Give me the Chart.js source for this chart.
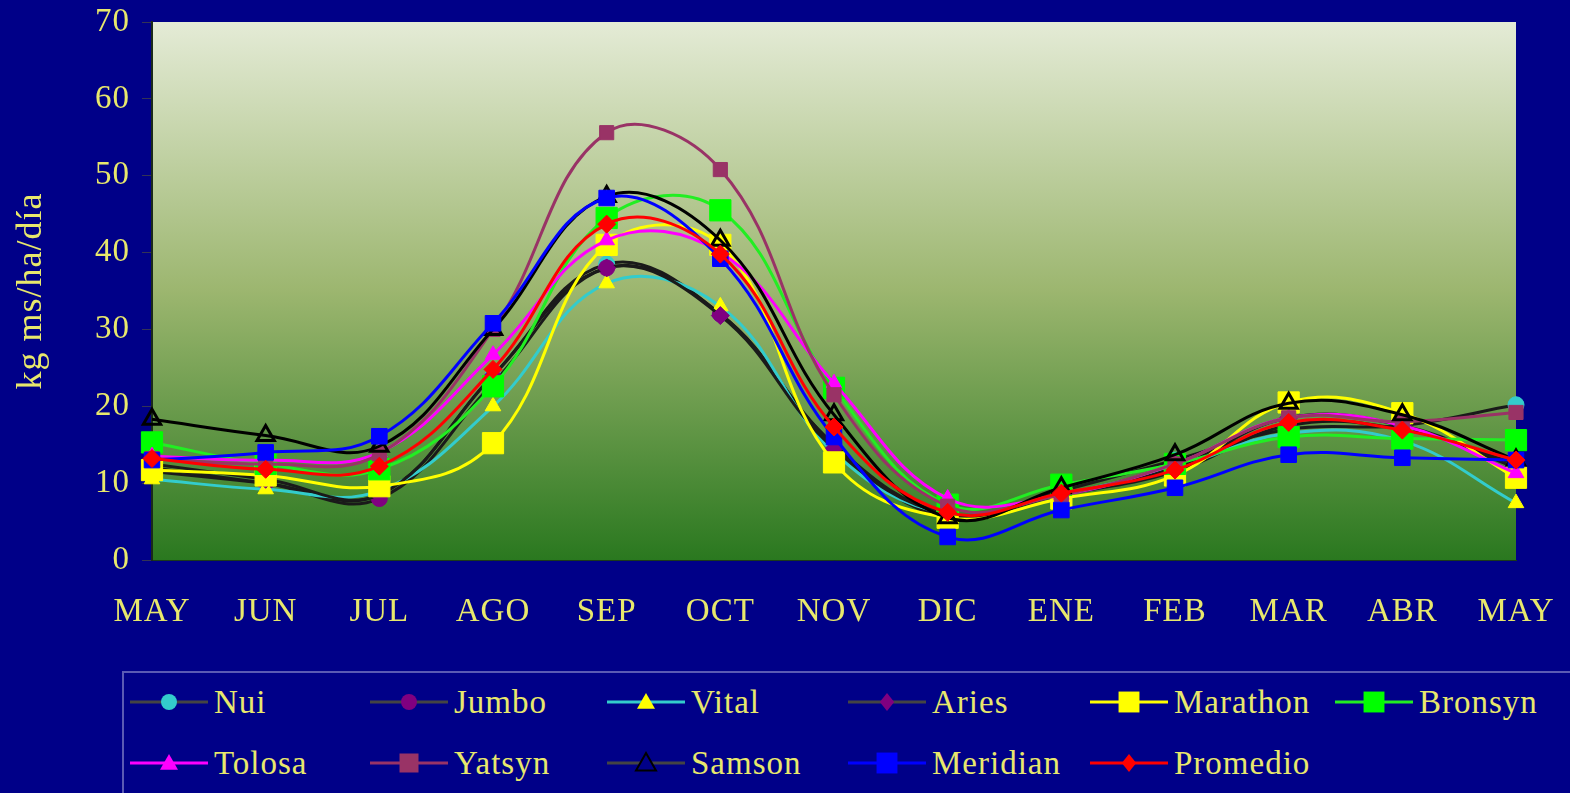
<!DOCTYPE html>
<html>
<head>
<meta charset="utf-8">
<script src="https://cdn.jsdelivr.net/npm/chart.js@4.4.0/dist/chart.umd.min.js"></script>
<style>
    body { margin: 0; background: #000088; width: 1570px; height: 793px; overflow: hidden; position: relative; font-family: "Liberation Serif", "DejaVu Serif", serif; }
    #grafico { position: absolute; left: 0; top: 0; }
    #leyenda { position: absolute; left: 122px; top: 671px; width: 1452px; height: 130px; border: 2px solid #5a5ab4; box-sizing: border-box; }
    .item { position: absolute; display: flex; align-items: center; height: 34px; color: #e8e86c; font-size: 33px; letter-spacing: 1px; white-space: nowrap; }
    .item canvas { margin-right: 6px; }
</style>
</head>
<body>
<canvas id="grafico" width="1570" height="660"></canvas>
<div id="leyenda"></div>
<script>
// meses
const meses = ["MAY", "JUN", "JUL", "AGO", "SEP", "OCT", "NOV", "DIC", "ENE", "FEB", "MAR", "ABR", "MAY"]

// kg ms/ha/dia por variedad
const nui = [11.5, 10, 8.5, 24, 38.5, 32, 15, 5.5, 9, 13, 17, 17.5, 20.2]
const jumbo = [12, 10, 8, 23, 38, 32, 15, 6, 8.5, 11.5, 17.5, 17, 12.5]
const vital = [10.5, 9.2, 9, 20, 36, 33, 14, 6, 8.5, 12, 16.5, 15.5, 7.4]
const aries = [12.5, 10.5, 8.5, 24, 38, 31.8, 14.5, 6, 8.5, 12, 18.5, 17.5, 12]
const marathon = [11.7, 11, 9.6, 15.2, 41, 41, 12.7, 5.5, 8, 11, 20.5, 19.1, 10.7]
const bronsyn = [15.3, 12.5, 11.8, 22.6, 44.5, 45.5, 22.4, 7.2, 9.8, 12.5, 16, 15.8, 15.6]
const tolosa = [13.5, 13, 14, 26.7, 41.6, 40, 23, 8, 8.5, 12.5, 18.5, 17.5, 11.3]
const yatsyn = [13.2, 12.5, 13.8, 30, 55.6, 50.8, 21.5, 7, 8.5, 12.5, 18.5, 18, 19.2]
const samson = [18.3, 16.2, 14.8, 30, 47.3, 41.6, 18.9, 5.5, 9.4, 13.7, 20.4, 18.9, 13]
const meridian = [13, 14, 16.1, 30.8, 47.1, 39.2, 16, 3, 6.5, 9.4, 13.7, 13.3, 13]
const promedio = [13.2, 11.8, 12.2, 24.8, 43.7, 39.8, 17.3, 6.2, 8.7, 11.7, 17.9, 16.9, 13]

const amarillo = '#e8e86c'

// nombre, datos, color linea, marcador, color marcador, radio
const series = [
    ['Nui', nui, '#1a1a1a', 'circle', '#33cccc', 8],
    ['Jumbo', jumbo, '#1a1a1a', 'circle', '#800080', 8],
    ['Vital', vital, '#33cccc', 'triangle', '#ffff00', 9],
    ['Aries', aries, '#1a1a1a', 'rectRot', '#800080', 9],
    ['Marathon', marathon, '#ffff00', 'rect', '#ffff00', 15],
    ['Bronsyn', bronsyn, '#22ee22', 'rect', '#00ff00', 15],
    ['Tolosa', tolosa, '#ff00ff', 'triangle', '#ff00ff', 9],
    ['Yatsyn', yatsyn, '#993366', 'rect', '#993366', 10],
    ['Samson', samson, '#000000', 'triangle', 'transparent', 10],
    ['Meridian', meridian, '#0000ff', 'rect', '#0000ff', 11],
    ['Promedio', promedio, '#ff0000', 'rectRot', '#ff0000', 9]
]

const fondoGrafico = {
    id: 'fondoGrafico',
    beforeDraw(chart) {
        const { ctx, chartArea } = chart
        const grad = ctx.createLinearGradient(0, chartArea.top, 0, chartArea.bottom)
        grad.addColorStop(0, '#e4ebd6')
        grad.addColorStop(0.5, '#9cb66f')
        grad.addColorStop(1, '#2a781f')
        ctx.save()
        ctx.fillStyle = grad
        ctx.fillRect(chartArea.left, chartArea.top, chartArea.right - chartArea.left, chartArea.bottom - chartArea.top)
        ctx.restore()
        ctx.letterSpacing = '1px'
    }
}

const datasets = series.map((s, i) => ({
    label: s[0],
    data: s[1],
    borderColor: s[2],
    borderWidth: 3,
    tension: 0.4,
    pointStyle: s[3],
    pointBackgroundColor: s[4],
    pointBorderColor: s[0] == 'Samson' ? '#000000' : s[4],
    pointBorderWidth: s[0] == 'Samson' ? 3 : 1,
    pointRadius: s[5],
    order: series.length - i
}))

const fuente = { family: '"Liberation Serif", "DejaVu Serif", serif', size: 33 }

// quitar los rellenos automaticos de las escalas
const sinRelleno = scale => {
    scale.paddingTop = 0
    scale.paddingBottom = 0
    scale.paddingLeft = 0
    scale.paddingRight = 0
}

new Chart(document.getElementById('grafico'), {
    type: 'line',
    data: { labels: meses, datasets: datasets },
    options: {
        responsive: false,
        animation: false,
        layout: { autoPadding: false, padding: { top: 22, right: 54, left: 0, bottom: 0 } },
        scales: {
            x: {
                offset: false,
                grid: { drawOnChartArea: false, drawTicks: false },
                border: { display: true, color: '#1a3a1a', width: 1 },
                ticks: { color: amarillo, font: fuente, padding: 33, maxRotation: 0, autoSkip: false },
                afterFit(scale) { scale.height = 100; sinRelleno(scale) }
            },
            y: {
                min: 0,
                max: 70,
                ticks: { stepSize: 10, color: amarillo, font: fuente, padding: 12 },
                grid: { drawOnChartArea: false, tickLength: 10, color: '#333355' },
                border: { display: true, color: '#1a2a1a', width: 2 },
                title: { display: true, text: 'kg ms/ha/día', color: amarillo, font: { family: fuente.family, size: 36 }, padding: { top: 10, bottom: 0 } },
                afterFit(scale) { scale.width = 152; sinRelleno(scale) }
            }
        },
        plugins: {
            legend: { display: false },
            tooltip: { enabled: false }
        }
    },
    plugins: [fondoGrafico]
})

// leyenda propia
const columnas = [6, 246, 483, 724, 966, 1211]
const filas = [12, 73]

function dibujarIcono(canvas, s) {
    const ctx = canvas.getContext('2d')
    const cx = 39, cy = 15
    ctx.strokeStyle = s[2] == '#1a1a1a' || s[2] == '#000000' ? '#444444' : s[2]
    ctx.lineWidth = 3
    ctx.beginPath()
    ctx.moveTo(0, cy)
    ctx.lineTo(78, cy)
    ctx.stroke()
    const r = Math.min(s[5], 11)
    ctx.beginPath()
    if (s[3] == 'circle') {
        ctx.arc(cx, cy, r, 0, Math.PI * 2)
    } else if (s[3] == 'triangle') {
        ctx.moveTo(cx, cy - r)
        ctx.lineTo(cx + r, cy + r * 0.75)
        ctx.lineTo(cx - r, cy + r * 0.75)
        ctx.closePath()
    } else if (s[3] == 'rectRot') {
        ctx.moveTo(cx, cy - r)
        ctx.lineTo(cx + r * 0.8, cy)
        ctx.lineTo(cx, cy + r)
        ctx.lineTo(cx - r * 0.8, cy)
        ctx.closePath()
    } else {
        const h = r * 0.95
        ctx.rect(cx - h, cy - h, h * 2, h * 2)
    }
    if (s[0] == 'Samson') {
        ctx.fillStyle = '#000088'
        ctx.fill()
        ctx.strokeStyle = '#000000'
        ctx.lineWidth = 2
        ctx.stroke()
    } else {
        ctx.fillStyle = s[4]
        ctx.fill()
    }
}

const leyenda = document.getElementById('leyenda')
series.forEach((s, i) => {
    const item = document.createElement('div')
    item.className = 'item'
    item.style.left = columnas[i % 6] + 'px'
    item.style.top = filas[Math.floor(i / 6)] + 'px'
    const icono = document.createElement('canvas')
    icono.width = 78
    icono.height = 30
    dibujarIcono(icono, s)
    item.appendChild(icono)
    const texto = document.createElement('span')
    texto.innerText = s[0]
    item.appendChild(texto)
    leyenda.appendChild(item)
})
</script>
</body>
</html>
